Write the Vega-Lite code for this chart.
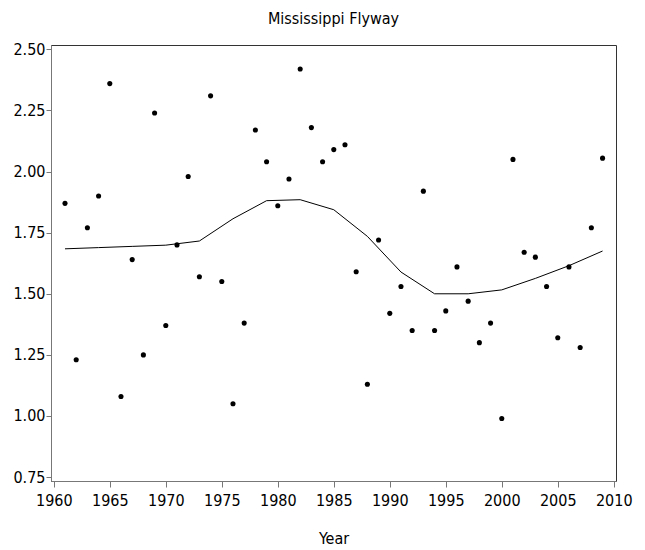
{
  "$schema": "https://vega.github.io/schema/vega-lite/v6.json",
  "autosize": "none",
  "width": 565,
  "height": 436,
  "padding": {"left": 51, "top": 45, "right": 29, "bottom": 69},
  "background": "white",
  "title": {
    "text": "Mississippi Flyway",
    "font": "DejaVu Sans Condensed, Liberation Sans, sans-serif",
    "fontSize": 16,
    "fontWeight": "normal",
    "color": "black",
    "anchor": "middle",
    "offset": 14
  },
  "config": {
    "view": {"stroke": "#333333", "strokeWidth": 1},
    "axis": {
      "labelFont": "DejaVu Sans Condensed, Liberation Sans, sans-serif",
      "labelFontSize": 16,
      "labelColor": "black",
      "titleFont": "DejaVu Sans Condensed, Liberation Sans, sans-serif",
      "titleFontSize": 16,
      "titleFontWeight": "normal",
      "titleColor": "black",
      "domainColor": "#777777",
      "tickColor": "#777777",
      "tickSize": 6,
      "grid": false
    }
  },
  "datasets": {
    "points": [
      {"Year": 1961, "Value": 1.87}, {"Year": 1962, "Value": 1.23}, {"Year": 1963, "Value": 1.77},
      {"Year": 1964, "Value": 1.90}, {"Year": 1965, "Value": 2.36}, {"Year": 1966, "Value": 1.08},
      {"Year": 1967, "Value": 1.64}, {"Year": 1968, "Value": 1.25}, {"Year": 1969, "Value": 2.24},
      {"Year": 1970, "Value": 1.37}, {"Year": 1971, "Value": 1.70}, {"Year": 1972, "Value": 1.98},
      {"Year": 1973, "Value": 1.57}, {"Year": 1974, "Value": 2.31}, {"Year": 1975, "Value": 1.55},
      {"Year": 1976, "Value": 1.05}, {"Year": 1977, "Value": 1.38}, {"Year": 1978, "Value": 2.17},
      {"Year": 1979, "Value": 2.04}, {"Year": 1980, "Value": 1.86}, {"Year": 1981, "Value": 1.97},
      {"Year": 1982, "Value": 2.42}, {"Year": 1983, "Value": 2.18}, {"Year": 1984, "Value": 2.04},
      {"Year": 1985, "Value": 2.09}, {"Year": 1986, "Value": 2.11}, {"Year": 1987, "Value": 1.59},
      {"Year": 1988, "Value": 1.13}, {"Year": 1989, "Value": 1.72}, {"Year": 1990, "Value": 1.42},
      {"Year": 1991, "Value": 1.53}, {"Year": 1992, "Value": 1.35}, {"Year": 1993, "Value": 1.92},
      {"Year": 1994, "Value": 1.35}, {"Year": 1995, "Value": 1.43}, {"Year": 1996, "Value": 1.61},
      {"Year": 1997, "Value": 1.47}, {"Year": 1998, "Value": 1.30}, {"Year": 1999, "Value": 1.38},
      {"Year": 2000, "Value": 0.99}, {"Year": 2001, "Value": 2.05}, {"Year": 2002, "Value": 1.67},
      {"Year": 2003, "Value": 1.65}, {"Year": 2004, "Value": 1.53}, {"Year": 2005, "Value": 1.32},
      {"Year": 2006, "Value": 1.61}, {"Year": 2007, "Value": 1.28}, {"Year": 2008, "Value": 1.77},
      {"Year": 2009, "Value": 2.055}
    ],
    "smooth": [
      {"Year": 1961, "Fit": 1.684}, {"Year": 1964, "Fit": 1.689}, {"Year": 1967, "Fit": 1.694},
      {"Year": 1970, "Fit": 1.699}, {"Year": 1973, "Fit": 1.716}, {"Year": 1976, "Fit": 1.807},
      {"Year": 1979, "Fit": 1.881}, {"Year": 1982, "Fit": 1.885}, {"Year": 1985, "Fit": 1.844},
      {"Year": 1988, "Fit": 1.735}, {"Year": 1991, "Fit": 1.589}, {"Year": 1994, "Fit": 1.500},
      {"Year": 1997, "Fit": 1.500}, {"Year": 2000, "Fit": 1.516}, {"Year": 2003, "Fit": 1.563},
      {"Year": 2006, "Fit": 1.615}, {"Year": 2009, "Fit": 1.675}
    ]
  },
  "layer": [
    {
      "data": {"name": "smooth"},
      "mark": {"type": "line", "color": "black", "strokeWidth": 1, "clip": true},
      "encoding": {
        "x": {"field": "Year", "type": "quantitative"},
        "y": {"field": "Fit", "type": "quantitative"}
      }
    },
    {
      "data": {"name": "points"},
      "mark": {"type": "circle", "color": "black", "opacity": 1, "size": 26},
      "encoding": {
        "x": {
          "field": "Year", "type": "quantitative",
          "scale": {"domain": [1959.75, 2010.2], "nice": false, "zero": false},
          "axis": {"values": [1960, 1965, 1970, 1975, 1980, 1985, 1990, 1995, 2000, 2005, 2010], "format": "d", "title": "Year", "labelPadding": 5, "titleY": 62, "titleBaseline": "alphabetic"}
        },
        "y": {
          "field": "Value", "type": "quantitative",
          "scale": {"domain": [0.734, 2.518], "nice": false, "zero": false},
          "axis": {"values": [0.75, 1.0, 1.25, 1.5, 1.75, 2.0, 2.25, 2.5], "format": ".2f", "title": null, "labelPadding": 1, "tickSize": 5}
        }
      }
    }
  ]
}
